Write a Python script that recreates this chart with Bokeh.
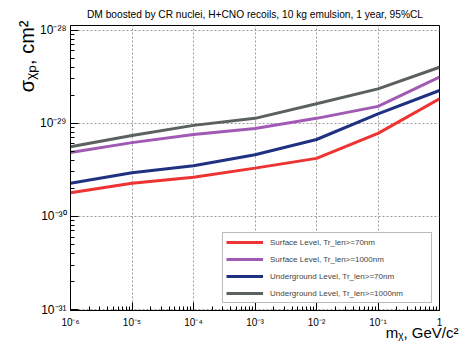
from bokeh.plotting import figure
from bokeh.models import (Range1d, FixedTicker, CustomJSTickFormatter, Legend,
                          LegendItem, Title)
from bokeh.embed import file_html
from bokeh.resources import INLINE

# ---------------- data ----------------
mass = [1e-6, 1e-5, 1e-4, 1e-3, 1e-2, 1e-1, 1.0]
surface_70 = [1.80e-30, 2.27e-30, 2.63e-30, 3.30e-30, 4.20e-30, 7.80e-30, 1.83e-29]
surface_1000 = [4.87e-30, 6.20e-30, 7.60e-30, 8.80e-30, 1.13e-29, 1.52e-29, 3.13e-29]
underground_70 = [2.27e-30, 2.95e-30, 3.50e-30, 4.60e-30, 6.70e-30, 1.26e-29, 2.25e-29]
underground_1000 = [5.60e-30, 7.40e-30, 9.50e-30, 1.13e-29, 1.62e-29, 2.34e-29, 4.00e-29]
series_names = ["Surface Level, Tr_len>=70nm", "Surface Level, Tr_len>=1000nm",
                "Underground Level, Tr_len>=70nm", "Underground Level, Tr_len>=1000nm"]
x_tick_exponents = [-6, -5, -4, -3, -2, -1, 0]
x_tick_labels = ["10⁻⁶", "10⁻⁵", "10⁻⁴", "10⁻³", "10⁻²", "10⁻¹", "1"]
y_tick_exponents = [-31, -30, -29, -28]
y_tick_labels = ["10⁻³¹", "10⁻³⁰", "10⁻²⁹", "10⁻²⁸"]
title_text = "DM boosted by CR nuclei, H+CNO recoils, 10 kg emulsion, 1 year, 95%CL"
x_title = "mᵪ, GeV/c²"
y_title = "σᵪₚ, cm²"

series = [surface_70, surface_1000, underground_70, underground_1000]
colors = ["#ee3333", "#a05ab4", "#1f3282", "#5b6060"]
FONT = "Liberation Sans"

p = figure(width=464, height=360, x_axis_type="log", y_axis_type="log",
           x_range=Range1d(1e-6, 1.0), y_range=Range1d(10 ** -31.01, 10 ** -27.95),
           output_backend="svg", toolbar_location=None,
           min_border_left=70, min_border_right=25, min_border_top=25, min_border_bottom=50)
p.background_fill_color = "white"
p.border_fill_color = "white"
p.outline_line_color = "black"
p.outline_line_width = 1

p.title.text = title_text
p.title.align = "center"
p.title.text_font = FONT
p.title.text_font_size = "10.2px"
p.title.text_font_style = "normal"
p.title.text_color = "black"
p.title.standoff = 12

def log_ticker(exps):
    major = [10.0 ** e for e in exps]
    minor = [m * 10.0 ** e for e in exps[:-1] for m in range(2, 10)]
    return FixedTicker(ticks=major, minor_ticks=minor)

def log_formatter(exps, labels):
    return CustomJSTickFormatter(args=dict(exps=exps, labels=labels), code="""
        const e = Math.round(Math.log10(tick));
        const i = exps.indexOf(e);
        return i >= 0 ? labels[i] : "";
    """)

p.xaxis.ticker = log_ticker(x_tick_exponents)
p.yaxis.ticker = log_ticker(y_tick_exponents)
p.xaxis.formatter = log_formatter(x_tick_exponents, x_tick_labels)
p.yaxis.formatter = log_formatter(y_tick_exponents, y_tick_labels)

for ax in (p.xaxis[0], p.yaxis[0]):
    ax.axis_line_color = "black"
    ax.major_tick_line_color = "black"
    ax.minor_tick_line_color = "black"
    ax.major_tick_in = 8
    ax.major_tick_out = 0
    ax.minor_tick_in = 4
    ax.minor_tick_out = 0
    ax.major_label_text_font = FONT
    ax.major_label_text_color = "black"
p.xaxis.major_label_text_font_size = "10px"
p.xaxis.major_label_standoff = 6
p.yaxis.major_label_text_font_size = "12px"
p.yaxis.major_label_standoff = 4

for g in (p.xgrid[0], p.ygrid[0]):
    g.grid_line_color = "#9a9a9a"
    g.grid_line_dash = "2 2"
    g.grid_line_width = 1

renderers = []
for vals, c in zip(series, colors):
    renderers.append(p.line(mass, vals, line_color=c, line_width=3))

legend = Legend(items=[LegendItem(label=n, renderers=[r]) for n, r in zip(series_names, renderers)],
                location="bottom_right", margin=7, padding=3, spacing=5,
                glyph_width=37, glyph_height=12, label_height=12, label_width=158,
                label_standoff=7, label_text_font=FONT, label_text_font_size="8px",
                border_line_color="#777777", border_line_width=1,
                background_fill_color="white", background_fill_alpha=1.0)
p.add_layout(legend)

# axis titles (ROOT style: aligned to the far end of each axis)
p.add_layout(Title(text=y_title, align="right", offset=-5, standoff=0,
                   text_font=FONT, text_font_size="20px", text_font_style="normal",
                   text_color="black"), "left")
p.add_layout(Title(text=x_title, align="right", offset=-19, standoff=-20,
                   text_font=FONT, text_font_size="15px", text_font_style="normal",
                   text_color="black"), "below")

open("out.html", "w").write(file_html(p, INLINE))
